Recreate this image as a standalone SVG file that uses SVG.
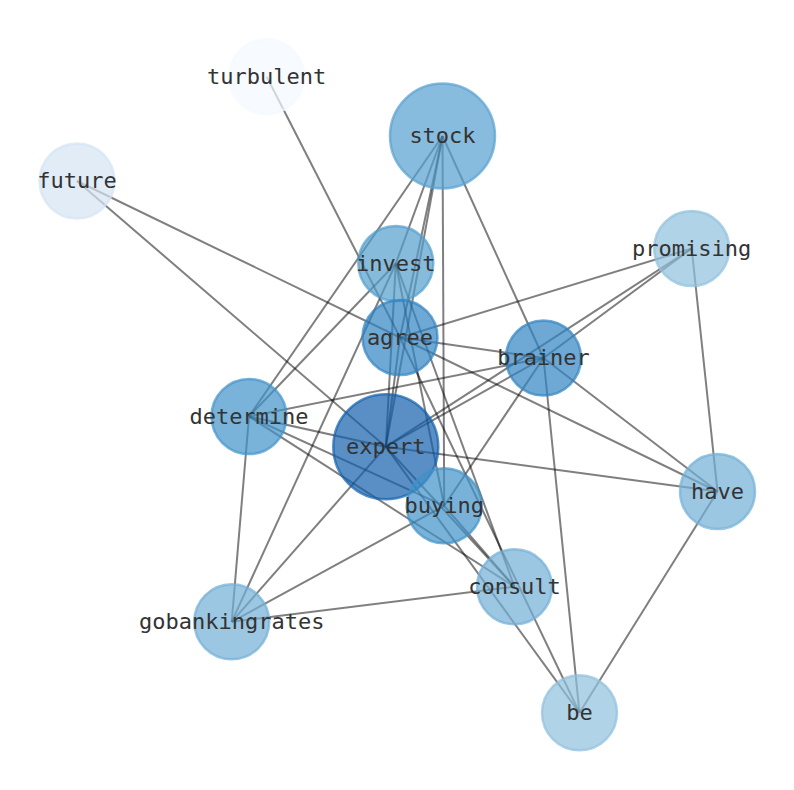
<svg xmlns="http://www.w3.org/2000/svg" width="794" height="790" viewBox="0 0 794 790">
<style>
.e{stroke:#000;stroke-opacity:0.5;stroke-width:2;fill:none}
.n circle{fill-opacity:0.7;stroke-opacity:0.7;stroke-width:2.5}
.n text{font-family:"DejaVu Sans Mono","Liberation Mono",monospace;font-size:22px;fill:#333;text-anchor:middle}
</style>
<rect width="794" height="790" fill="#fff"/>
<g id="edges" class="e">
<line x1="266.7" y1="76.7" x2="400" y2="337.5"/>
<line x1="77" y1="181" x2="400" y2="337.5"/>
<line x1="77" y1="181" x2="385.8" y2="446.7"/>
<line x1="442.5" y1="136" x2="249" y2="416.5"/>
<line x1="442.5" y1="136" x2="395.8" y2="263.5"/>
<line x1="442.5" y1="136" x2="400" y2="337.5"/>
<line x1="442.5" y1="136" x2="385.8" y2="446.7"/>
<line x1="442.5" y1="136" x2="444.2" y2="505.8"/>
<line x1="442.5" y1="136" x2="543.5" y2="358"/>
<line x1="395.8" y1="263.5" x2="249" y2="416.5"/>
<line x1="395.8" y1="263.5" x2="231.7" y2="621.8"/>
<line x1="395.8" y1="263.5" x2="385.8" y2="446.7"/>
<line x1="395.8" y1="263.5" x2="444.2" y2="505.8"/>
<line x1="395.8" y1="263.5" x2="514.5" y2="586.8"/>
<line x1="400" y1="337.5" x2="691.7" y2="248.5"/>
<line x1="400" y1="337.5" x2="543.5" y2="358"/>
<line x1="400" y1="337.5" x2="717.5" y2="491.5"/>
<line x1="400" y1="337.5" x2="579.5" y2="712.8"/>
<line x1="400" y1="337.5" x2="385.8" y2="446.7"/>
<line x1="249" y1="416.5" x2="543.5" y2="358"/>
<line x1="249" y1="416.5" x2="385.8" y2="446.7"/>
<line x1="249" y1="416.5" x2="444.2" y2="505.8"/>
<line x1="249" y1="416.5" x2="514.5" y2="586.8"/>
<line x1="249" y1="416.5" x2="231.7" y2="621.8"/>
<line x1="543.5" y1="358" x2="385.8" y2="446.7"/>
<line x1="543.5" y1="358" x2="691.7" y2="248.5"/>
<line x1="543.5" y1="358" x2="444.2" y2="505.8"/>
<line x1="543.5" y1="358" x2="717.5" y2="491.5"/>
<line x1="543.5" y1="358" x2="579.5" y2="712.8"/>
<line x1="691.7" y1="248.5" x2="385.8" y2="446.7"/>
<line x1="691.7" y1="248.5" x2="717.5" y2="491.5"/>
<line x1="385.8" y1="446.7" x2="717.5" y2="491.5"/>
<line x1="385.8" y1="446.7" x2="231.7" y2="621.8"/>
<line x1="385.8" y1="446.7" x2="514.5" y2="586.8"/>
<line x1="385.8" y1="446.7" x2="579.5" y2="712.8"/>
<line x1="444.2" y1="505.8" x2="231.7" y2="621.8"/>
<line x1="444.2" y1="505.8" x2="514.5" y2="586.8"/>
<line x1="231.7" y1="621.8" x2="514.5" y2="586.8"/>
<line x1="717.5" y1="491.5" x2="579.5" y2="712.8"/>
</g>
<g id="turbulent" class="n"><circle cx="266.7" cy="76.7" r="37.5" fill="#f4f9ff" stroke="#f4f9ff"/><text x="266.7" y="83.5">turbulent</text></g>
<g id="stock" class="n"><circle cx="442.5" cy="136" r="52.5" fill="#56a0d0" stroke="#56a0d0"/><text x="442.5" y="143">stock</text></g>
<g id="future" class="n"><circle cx="77" cy="181" r="37.5" fill="#d4e4f4" stroke="#d4e4f4"/><text x="77" y="188">future</text></g>
<g id="promising" class="n"><circle cx="691.7" cy="248.5" r="37.5" fill="#90c0dd" stroke="#90c0dd"/><text x="691.7" y="255.5">promising</text></g>
<g id="invest" class="n"><circle cx="395.8" cy="263.5" r="37.5" fill="#529ecd" stroke="#529ecd"/><text x="395.8" y="270.5">invest</text></g>
<g id="agree" class="n"><circle cx="400" cy="337.5" r="37.5" fill="#3183c2" stroke="#3183c2"/><text x="400" y="344.5">agree</text></g>
<g id="brainer" class="n"><circle cx="543.5" cy="358" r="37.5" fill="#3183c2" stroke="#3183c2"/><text x="543.5" y="365">brainer</text></g>
<g id="determine" class="n"><circle cx="249" cy="416.5" r="37.5" fill="#4193c9" stroke="#4193c9"/><text x="249" y="423.5">determine</text></g>
<g id="expert" class="n"><circle cx="385.8" cy="446.7" r="52.5" fill="#135fac" stroke="#135fac"/><text x="385.8" y="453.7">expert</text></g>
<g id="buying" class="n"><circle cx="444.2" cy="505.8" r="37.5" fill="#4091c7" stroke="#4091c7"/><text x="444.2" y="512.8">buying</text></g>
<g id="have" class="n"><circle cx="717.5" cy="491.5" r="37.5" fill="#72afd6" stroke="#72afd6"/><text x="717.5" y="498.5">have</text></g>
<g id="consult" class="n"><circle cx="514.5" cy="586.8" r="37.5" fill="#72afd6" stroke="#72afd6"/><text x="514.5" y="593.8">consult</text></g>
<g id="gobankingrates" class="n"><circle cx="231.7" cy="621.8" r="37.5" fill="#72afd6" stroke="#72afd6"/><text x="231.7" y="628.8">gobankingrates</text></g>
<g id="be" class="n"><circle cx="579.5" cy="712.8" r="37.5" fill="#90c0dd" stroke="#90c0dd"/><text x="579.5" y="719.8">be</text></g>
</svg>
